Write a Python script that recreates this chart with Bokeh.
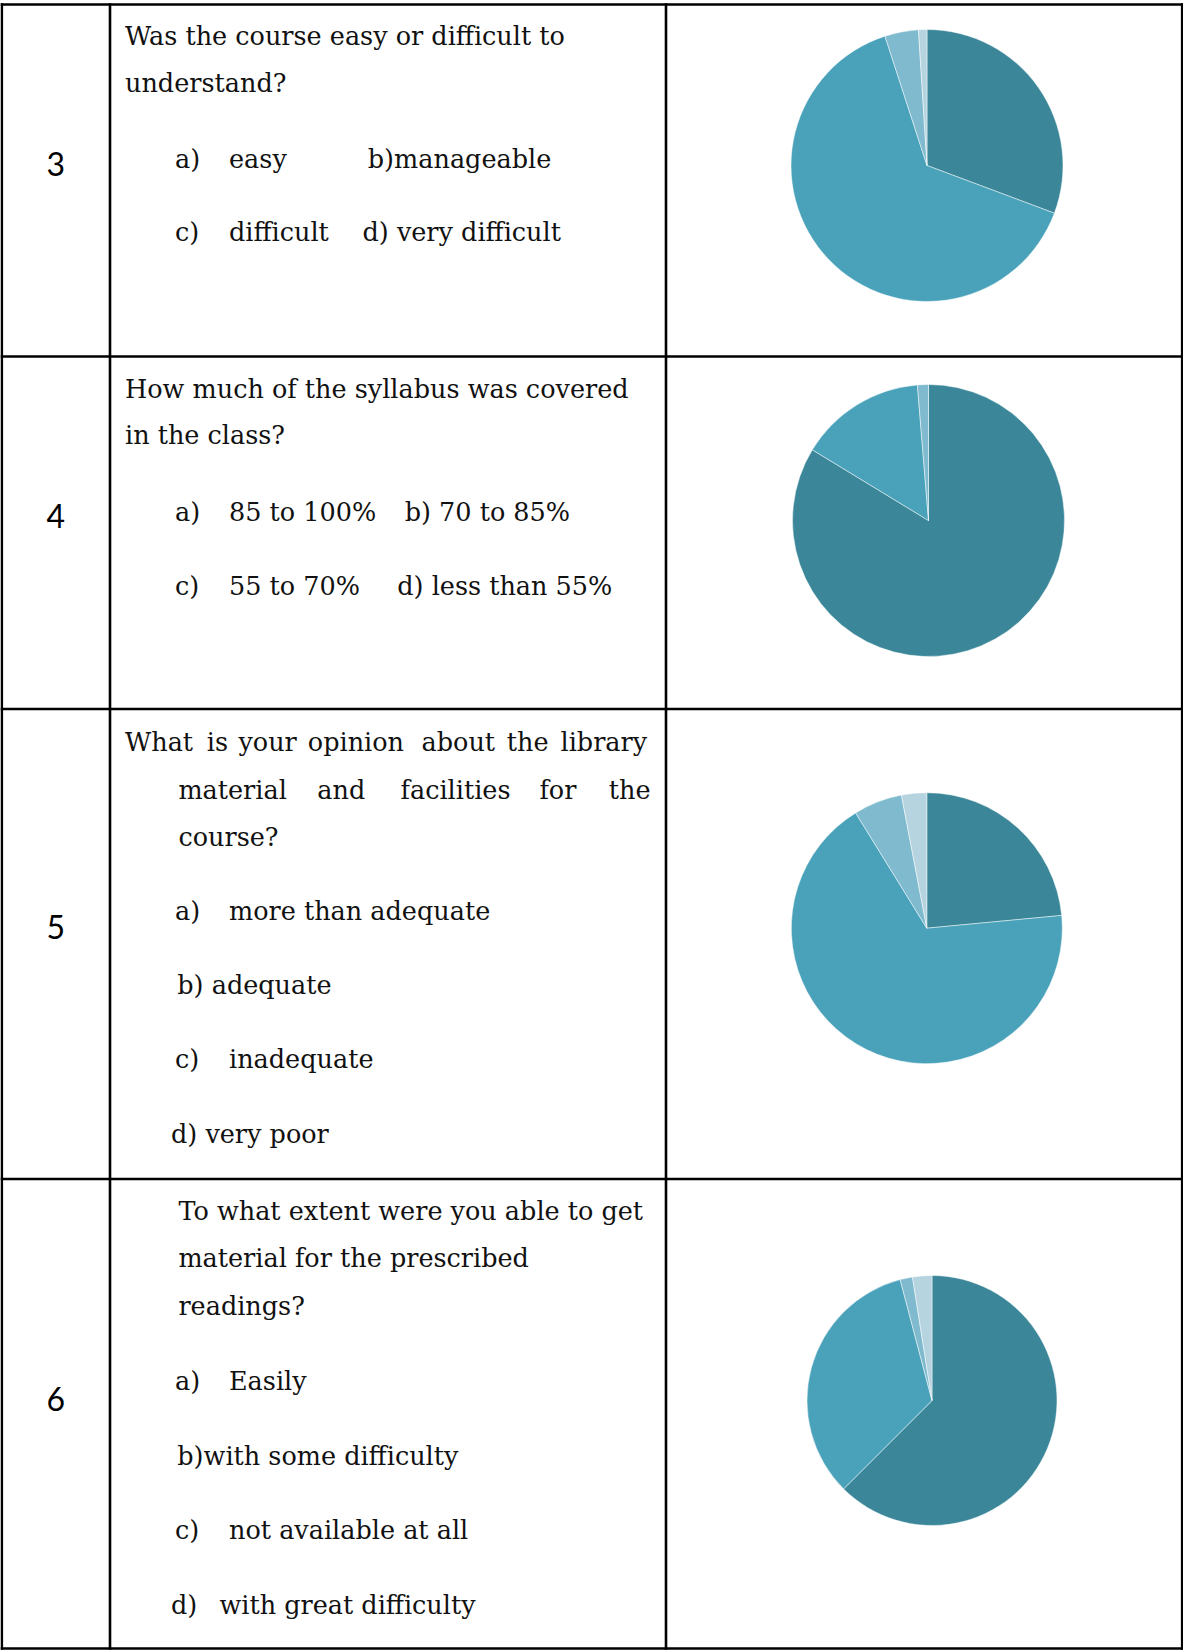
import math
from bokeh.plotting import figure
from bokeh.models import ColumnDataSource, Range1d
from bokeh.core.properties import value
from bokeh.embed import file_html
from bokeh.resources import INLINE

# ---- survey data -------------------------------------------------------
question_numbers = ["3", "4", "5", "6"]

q3_options = ["easy", "manageable", "difficult", "very difficult"]
q3_share = [30.7, 64.3, 4.0, 1.0]

q4_options = ["85 to 100%", "70 to 85%", "55 to 70%", "less than 55%"]
q4_share = [83.7, 15.0, 1.3, 0.0]

q5_options = ["more than adequate", "adequate", "inadequate", "very poor"]
q5_share = [23.5, 67.7, 5.8, 3.0]

q6_options = ["Easily", "with some difficulty", "not available at all", "with great difficulty"]
q6_share = [62.5, 33.4, 1.6, 2.5]

slice_colors = ["#3B8799", "#4AA2BA", "#7FBACE", "#B5D4E0"]

# ---- page geometry (pixels from the top-left corner) --------------------
W, H = 1183, 1651
row_tops = [4, 356, 708.5, 1178.5, 1648]
col_x = [1.3, 109.5, 665.5, 1181.7]

SERIF = "DejaVu Serif"
SANS = "Lato"
BODY_SIZE = "25.5px"
LIFT = 7.5  # raise the body text baselines slightly


def Y(y):
    return H - y


p = figure(width=W, height=H, x_range=Range1d(0, W), y_range=Range1d(0, H),
           output_backend="svg", toolbar_location=None, min_border=0,
           background_fill_color="white", border_fill_color="white")
p.axis.visible = False
p.grid.visible = False
p.outline_line_color = None

# ---- table rules --------------------------------------------------------
hx0, hx1, hy = [], [], []
for t in row_tops:
    hx0.append(col_x[0] - 1.3)
    hx1.append(col_x[-1] + 1.3)
    hy.append(Y(t))
p.segment(x0=hx0, y0=hy, x1=hx1, y1=hy, line_color="black", line_width=2.6)
p.segment(x0=col_x, y0=[Y(row_tops[0]) + 1.3] * len(col_x), x1=col_x,
          y1=[Y(row_tops[-1]) - 1.3] * len(col_x), line_color="black", line_width=2.6)

# ---- row numbers --------------------------------------------------------
num_baselines = [163.5, 515.5, 926.5, 1398.5]
p.text(x=[55.3] * 4, y=[Y(b) for b in num_baselines], text=question_numbers,
       text_font=value(SANS), text_font_size="32px", text_align="center",
       text_baseline="alphabetic", text_color="black")

# ---- question and option text -------------------------------------------
lines = [
    # row 3
    (124.5, 42.5, "Was the course easy or difficult to"),
    (124.5, 90, "understand?"),
    (174.5, 165.5, "a)"), (228.5, 165.5, q3_options[0]), (367.3, 165.5, "b)" + q3_options[1]),
    (174.5, 239, "c)"), (228.5, 239, q3_options[2]), (362, 239, "d) " + q3_options[3]),
    # row 4
    (124.5, 396, "How much of the syllabus was covered"),
    (124.5, 442, "in the class?"),
    (174.5, 518.5, "a)"), (228.5, 518.5, q4_options[0]), (404.2, 518.5, "b) " + q4_options[1]),
    (174.5, 592.5, "c)"), (228.5, 592.5, q4_options[2]), (396.8, 592.5, "d) " + q4_options[3]),
    # row 5 (first two lines justified word by word)
    (124.5, 749, "What"), (206.3, 749, "is"), (237.9, 749, "your"), (307.3, 749, "opinion"),
    (421, 749, "about"), (506.3, 749, "the"), (560, 749, "library"),
    (177.9, 797, "material"), (316.8, 797, "and"), (400, 797, "facilities"),
    (538.9, 797, "for"), (608.3, 797, "the"),
    (177.9, 844, "course?"),
    (174.5, 918, "a)"), (228.5, 918, q5_options[0]),
    (176.8, 991.5, "b) " + q5_options[1]),
    (174.5, 1066, "c)"), (228.5, 1066, q5_options[2]),
    (170.5, 1141, "d) " + q5_options[3]),
    # row 6
    (177.9, 1218, "To what extent were you able to get"),
    (177.9, 1265, "material for the prescribed"),
    (177.9, 1313, "readings?"),
    (174.5, 1388, "a)"), (228.5, 1388, q6_options[0]),
    (176.8, 1463, "b)" + q6_options[1]),
    (174.5, 1536.5, "c)"), (228.5, 1536.5, q6_options[2]),
    (170.5, 1611.5, "d)"), (218.9, 1611.5, q6_options[3]),
]
p.text(x=[l[0] for l in lines], y=[Y(l[1] - LIFT) for l in lines], text=[l[2] for l in lines],
       text_font=value(SERIF), text_font_size=BODY_SIZE, text_align="left",
       text_baseline="alphabetic", text_color="#111111")

# ---- pie charts -----------------------------------------------------------
pies = [
    (q3_options, q3_share, 926.5, 165.0, 136.0),
    (q4_options, q4_share, 928.0, 520.0, 136.0),
    (q5_options, q5_share, 926.3, 927.7, 135.5),
    (q6_options, q6_share, 931.5, 1400.0, 125.0),
]

for options, share, cx, cy, r in pies:
    total = float(sum(share))
    data = dict(x=[], y=[], start=[], end=[], color=[], label=[])
    running = 0.0
    for i, (opt, v) in enumerate(zip(options, share)):
        a0 = math.pi / 2 - 2 * math.pi * running / total
        running += v
        a1 = math.pi / 2 - 2 * math.pi * running / total
        if v <= 0:
            continue
        data["x"].append(cx)
        data["y"].append(Y(cy))
        data["start"].append(a0)
        data["end"].append(a1)
        data["color"].append(slice_colors[i])
        data["label"].append(opt)
    src = ColumnDataSource(data)
    p.wedge(x="x", y="y", radius=r, start_angle="start", end_angle="end",
            direction="clock", fill_color="color", line_color="white",
            line_width=0.6, line_alpha=0.8, source=src)

open("out.html", "w").write(file_html(p, INLINE))
